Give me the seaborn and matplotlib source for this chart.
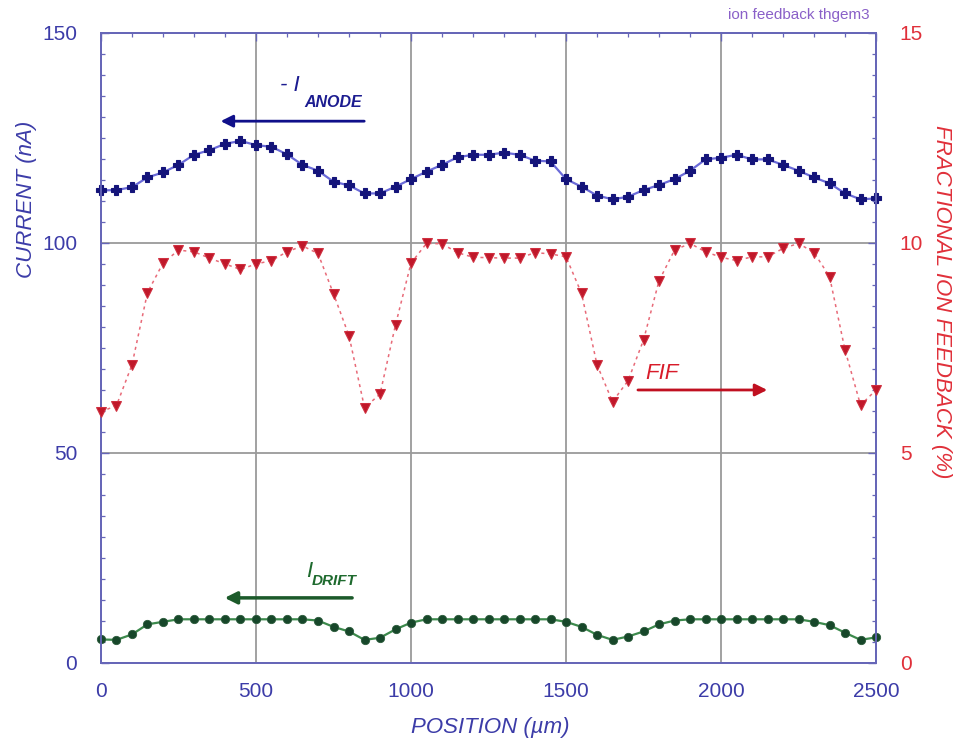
import numpy as np
import pandas as pd
import matplotlib
matplotlib.use("Agg")
import matplotlib.pyplot as plt
from matplotlib.ticker import MultipleLocator
import seaborn as sns

# Scan positions (µm), one measurement every 50 µm
position = list(range(0, 2501, 50))

# Anode current, plotted as -I_ANODE (nA)
anode_current = [
    112.5, 112.6, 113.3, 115.6, 116.8, 118.6, 121.0, 122.1, 123.6, 124.3,
    123.3, 122.9, 121.1, 118.6, 117.2, 114.6, 113.7, 111.8, 111.8, 113.4,
    115.2, 117.0, 118.6, 120.4, 121.0, 121.0, 121.5, 121.0, 119.6, 119.4,
    115.2, 113.4, 111.3, 110.4, 111.0, 112.6, 113.8, 115.2, 117.2, 119.9,
    120.3, 121.0, 119.9, 119.9, 118.6, 117.2, 115.6, 114.2, 111.8, 110.4,
    110.6,
]

# Drift current I_DRIFT (nA)
drift_current = [
    5.6, 5.5, 6.8, 9.2, 9.8, 10.4, 10.4, 10.4, 10.4, 10.4,
    10.4, 10.4, 10.4, 10.4, 10.1, 8.6, 7.5, 5.5, 6.0, 8.0,
    9.6, 10.4, 10.4, 10.4, 10.4, 10.4, 10.4, 10.4, 10.4, 10.4,
    9.8, 8.6, 6.7, 5.5, 6.3, 7.5, 9.2, 10.1, 10.4, 10.4,
    10.4, 10.4, 10.4, 10.4, 10.4, 10.4, 9.8, 9.0, 7.2, 5.5,
    6.1,
]

# Fractional ion feedback (%)
fif = [
    5.98, 6.13, 7.10, 8.82, 9.52, 9.83, 9.79, 9.64, 9.50, 9.37,
    9.50, 9.58, 9.79, 9.93, 9.75, 8.79, 7.79, 6.08, 6.40, 8.05,
    9.52, 9.99, 9.98, 9.77, 9.66, 9.65, 9.64, 9.64, 9.77, 9.74,
    9.67, 8.80, 7.10, 6.22, 6.72, 7.69, 9.10, 9.83, 9.99, 9.79,
    9.66, 9.58, 9.67, 9.67, 9.87, 9.99, 9.77, 9.20, 7.45, 6.14,
    6.50,
]

x_ticks = [0, 500, 1000, 1500, 2000, 2500]
left_ticks = [0, 50, 100, 150]
right_ticks = [0, 5, 10, 15]

df = pd.DataFrame({
    "position": position,
    "anode": anode_current,
    "drift": drift_current,
    "fif": fif,
})

sns.set_style("white")
plt.rcParams["font.family"] = ["Liberation Sans", "DejaVu Sans"]

BLUE_TXT = "#3c3ca8"
AXIS_BLUE = "#6666b8"
RED_TXT = "#e0303a"
GREEN_TXT = "#1e6a2e"

fig = plt.figure(figsize=(9.59, 7.41), dpi=100)
ax = fig.add_axes([0.1053, 0.1053, 0.8082, 0.8502])
ax2 = ax.twinx()

# Currents on the left axis
sns.lineplot(data=df, x="position", y="anode", ax=ax, color="#6a6ad8",
             linewidth=1.6, marker="P", markersize=6.5,
             markerfacecolor="#14147a", markeredgecolor="#14147a",
             markeredgewidth=0.8, zorder=4, clip_on=False)
sns.lineplot(data=df, x="position", y="drift", ax=ax, color="#3c8a4c",
             linewidth=1.6, marker="o", markersize=6,
             markerfacecolor="#17472a", markeredgecolor="#2a5a3a",
             markeredgewidth=0.6, zorder=4, clip_on=False)

# Feedback fraction on the right axis
sns.lineplot(data=df, x="position", y="fif", ax=ax2, color="#e86a78",
             linewidth=1.1, linestyle=(0, (2, 2.5)), marker="v", markersize=7,
             markerfacecolor="#c0182a", markeredgecolor="#d03040",
             zorder=4, clip_on=False)

ax.set_xlim(0, 2500)
ax.set_ylim(0, 150)
ax2.set_ylim(0, 15)

ax.set_xticks(x_ticks)
ax.set_yticks(left_ticks)
ax2.set_yticks(right_ticks)
ax.xaxis.set_minor_locator(MultipleLocator(100))
ax.yaxis.set_minor_locator(MultipleLocator(5))
ax2.yaxis.set_minor_locator(MultipleLocator(0.5))

ax.grid(True, which="major", color="#9a9a9a", linewidth=1.3)
ax2.grid(False)

for a in (ax, ax2):
    for sp in a.spines.values():
        sp.set_color(AXIS_BLUE)
        sp.set_linewidth(1.3)
    a.set_xlabel("")
    a.set_ylabel("")

ax.tick_params(axis="both", which="major", direction="in", length=6,
               width=1.0, color=AXIS_BLUE, labelsize=15, labelcolor=BLUE_TXT,
               pad=14, top=True)
ax.tick_params(axis="both", which="minor", direction="in", length=3,
               width=0.9, color=AXIS_BLUE, top=True)
ax.tick_params(axis="y", pad=17)
ax2.tick_params(axis="y", which="major", direction="in", length=6,
                width=1.0, color=AXIS_BLUE, labelsize=15, labelcolor=RED_TXT,
                pad=17)
ax2.tick_params(axis="y", which="minor", direction="in", length=3,
                width=0.9, color=AXIS_BLUE)

# Axis titles
fig.text(0.028, 1 - 199 / 741, "CURRENT (nA)", rotation=90, ha="center",
         va="center", fontsize=16, style="italic", color=BLUE_TXT)
fig.text(0.982, 1 - 302 / 741, "FRACTIONAL ION FEEDBACK (%)", rotation=270,
         ha="center", va="center", fontsize=16, style="italic", color=RED_TXT)
fig.text(490 / 959, 1 - 728 / 741, "POSITION (\u00b5m)", ha="center",
         va="center", fontsize=16, style="italic", color=BLUE_TXT)
fig.text(870 / 959, 1 - 15 / 741, "ion feedback thgem3", ha="right",
         va="center", fontsize=11, color="#8a60c8")

# Series annotations with arrows toward their axes
ax.text(577, 137.4, "- I", fontsize=16, style="italic", color="#1c1c90",
        ha="left", va="center")
ax.text(655, 133.5, "ANODE", fontsize=11.5, style="italic", weight="bold",
        color="#1c1c90", ha="left", va="center")
ax.annotate("", xy=(377, 129), xytext=(858, 129),
            arrowprops=dict(arrowstyle="-|>", color="#10108a", lw=2,
                            mutation_scale=18))

ax.text(662, 21.7, "I", fontsize=16, style="italic", color=GREEN_TXT,
        ha="left", va="center")
ax.text(680, 19.6, "DRIFT", fontsize=11, style="italic", weight="bold",
        color=GREEN_TXT, ha="left", va="center")
ax.annotate("", xy=(390, 15.5), xytext=(819, 15.5),
            arrowprops=dict(arrowstyle="-|>", color="#1c5a2a", lw=2.5,
                            mutation_scale=18))

ax2.text(1755, 6.89, "FIF", fontsize=16, style="italic", color="#d81c2a",
         ha="left", va="center")
ax2.annotate("", xy=(2158, 6.5), xytext=(1723, 6.5),
             arrowprops=dict(arrowstyle="-|>", color="#c01020", lw=2,
                             mutation_scale=18))

fig.savefig("out.png", dpi=100)
